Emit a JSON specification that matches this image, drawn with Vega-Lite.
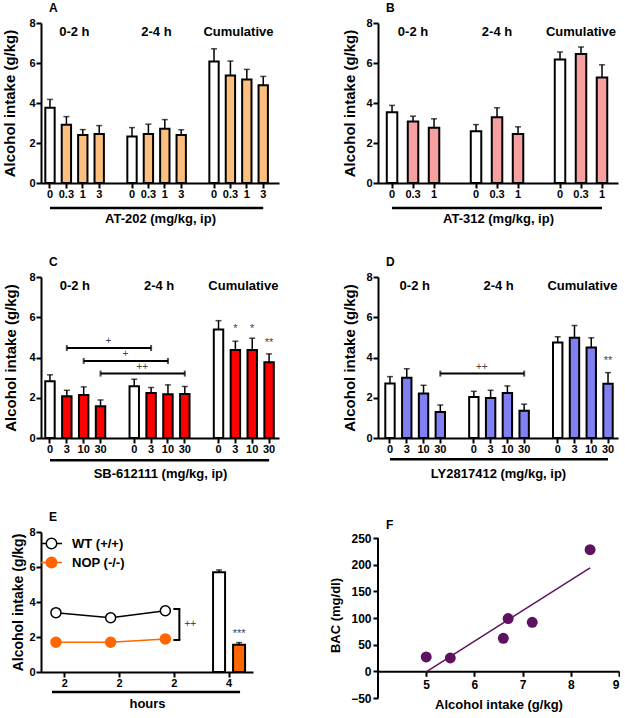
{
  "$schema": "https://vega.github.io/schema/vega-lite/v6.json",
  "background": "white",
  "padding": {"left": 2, "top": 2, "right": 0, "bottom": 0},
  "config": {
    "font": "Liberation Sans",
    "view": {"stroke": null},
    "axis": {"domainColor": "black", "domainWidth": 2, "tickColor": "black", "tickWidth": 2, "tickSize": 5, "labelColor": "black", "labelFont": "Liberation Sans", "labelFontWeight": "bold", "labelFontSize": 11, "labelPadding": 1, "titleColor": "black", "titleFont": "Liberation Sans", "titleFontWeight": "bold", "grid": false, "labelOverlap": false},
    "axisX": {"labelAngle": 0, "titleFontSize": 13, "titlePadding": 13, "labelPadding": 0},
    "axisY": {"titleFontSize": 15, "titlePadding": 11},
    "title": {"anchor": "start", "frame": "group", "fontSize": 12, "fontWeight": "bold", "font": "Liberation Sans", "color": "black", "dx": 8, "offset": 2}
  },
  "datasets": {
    "A": [
      {"cat": "0-2 h:0", "period": "0-2 h", "dose": "0", "trt": "vehicle", "mean": 3.76, "top": 4.18},
      {"cat": "0-2 h:0.3", "period": "0-2 h", "dose": "0.3", "trt": "drug", "mean": 2.91, "top": 3.32},
      {"cat": "0-2 h:1", "period": "0-2 h", "dose": "1", "trt": "drug", "mean": 2.40, "top": 2.67},
      {"cat": "0-2 h:3", "period": "0-2 h", "dose": "3", "trt": "drug", "mean": 2.45, "top": 2.87},
      {"cat": "2-4 h:0", "period": "2-4 h", "dose": "0", "trt": "vehicle", "mean": 2.32, "top": 2.77},
      {"cat": "2-4 h:0.3", "period": "2-4 h", "dose": "0.3", "trt": "drug", "mean": 2.45, "top": 2.94},
      {"cat": "2-4 h:1", "period": "2-4 h", "dose": "1", "trt": "drug", "mean": 2.71, "top": 3.17},
      {"cat": "2-4 h:3", "period": "2-4 h", "dose": "3", "trt": "drug", "mean": 2.40, "top": 2.66},
      {"cat": "Cumulative:0", "period": "Cumulative", "dose": "0", "trt": "vehicle", "mean": 6.08, "top": 6.71},
      {"cat": "Cumulative:0.3", "period": "Cumulative", "dose": "0.3", "trt": "drug", "mean": 5.38, "top": 6.10},
      {"cat": "Cumulative:1", "period": "Cumulative", "dose": "1", "trt": "drug", "mean": 5.18, "top": 5.68},
      {"cat": "Cumulative:3", "period": "Cumulative", "dose": "3", "trt": "drug", "mean": 4.89, "top": 5.33}
    ],
    "B": [
      {"cat": "0-2 h:0", "period": "0-2 h", "dose": "0", "trt": "vehicle", "mean": 3.54, "top": 3.88},
      {"cat": "0-2 h:0.3", "period": "0-2 h", "dose": "0.3", "trt": "drug", "mean": 3.07, "top": 3.34},
      {"cat": "0-2 h:1", "period": "0-2 h", "dose": "1", "trt": "drug", "mean": 2.76, "top": 3.21},
      {"cat": "2-4 h:0", "period": "2-4 h", "dose": "0", "trt": "vehicle", "mean": 2.59, "top": 2.92},
      {"cat": "2-4 h:0.3", "period": "2-4 h", "dose": "0.3", "trt": "drug", "mean": 3.29, "top": 3.76},
      {"cat": "2-4 h:1", "period": "2-4 h", "dose": "1", "trt": "drug", "mean": 2.45, "top": 2.81},
      {"cat": "Cumulative:0", "period": "Cumulative", "dose": "0", "trt": "vehicle", "mean": 6.18, "top": 6.55},
      {"cat": "Cumulative:0.3", "period": "Cumulative", "dose": "0.3", "trt": "drug", "mean": 6.45, "top": 6.80},
      {"cat": "Cumulative:1", "period": "Cumulative", "dose": "1", "trt": "drug", "mean": 5.28, "top": 5.91}
    ],
    "C": [
      {"cat": "0-2 h:0", "period": "0-2 h", "dose": "0", "trt": "vehicle", "mean": 2.82, "top": 3.14},
      {"cat": "0-2 h:3", "period": "0-2 h", "dose": "3", "trt": "drug", "mean": 2.07, "top": 2.37},
      {"cat": "0-2 h:10", "period": "0-2 h", "dose": "10", "trt": "drug", "mean": 2.14, "top": 2.54},
      {"cat": "0-2 h:30", "period": "0-2 h", "dose": "30", "trt": "drug", "mean": 1.58, "top": 1.89},
      {"cat": "2-4 h:0", "period": "2-4 h", "dose": "0", "trt": "vehicle", "mean": 2.57, "top": 2.92},
      {"cat": "2-4 h:3", "period": "2-4 h", "dose": "3", "trt": "drug", "mean": 2.24, "top": 2.51},
      {"cat": "2-4 h:10", "period": "2-4 h", "dose": "10", "trt": "drug", "mean": 2.17, "top": 2.64},
      {"cat": "2-4 h:30", "period": "2-4 h", "dose": "30", "trt": "drug", "mean": 2.19, "top": 2.56},
      {"cat": "Cumulative:0", "period": "Cumulative", "dose": "0", "trt": "vehicle", "mean": 5.39, "top": 5.83},
      {"cat": "Cumulative:3", "period": "Cumulative", "dose": "3", "trt": "drug", "mean": 4.37, "top": 4.81},
      {"cat": "Cumulative:10", "period": "Cumulative", "dose": "10", "trt": "drug", "mean": 4.37, "top": 4.96},
      {"cat": "Cumulative:30", "period": "Cumulative", "dose": "30", "trt": "drug", "mean": 3.77, "top": 4.18}
    ],
    "D": [
      {"cat": "0-2 h:0", "period": "0-2 h", "dose": "0", "trt": "vehicle", "mean": 2.71, "top": 3.05},
      {"cat": "0-2 h:3", "period": "0-2 h", "dose": "3", "trt": "drug", "mean": 3.00, "top": 3.44},
      {"cat": "0-2 h:10", "period": "0-2 h", "dose": "10", "trt": "drug", "mean": 2.21, "top": 2.62},
      {"cat": "0-2 h:30", "period": "0-2 h", "dose": "30", "trt": "drug", "mean": 1.29, "top": 1.64},
      {"cat": "2-4 h:0", "period": "2-4 h", "dose": "0", "trt": "vehicle", "mean": 2.04, "top": 2.32},
      {"cat": "2-4 h:3", "period": "2-4 h", "dose": "3", "trt": "drug", "mean": 1.99, "top": 2.37},
      {"cat": "2-4 h:10", "period": "2-4 h", "dose": "10", "trt": "drug", "mean": 2.24, "top": 2.59},
      {"cat": "2-4 h:30", "period": "2-4 h", "dose": "30", "trt": "drug", "mean": 1.36, "top": 1.68},
      {"cat": "Cumulative:0", "period": "Cumulative", "dose": "0", "trt": "vehicle", "mean": 4.75, "top": 5.03},
      {"cat": "Cumulative:3", "period": "Cumulative", "dose": "3", "trt": "drug", "mean": 4.98, "top": 5.59},
      {"cat": "Cumulative:10", "period": "Cumulative", "dose": "10", "trt": "drug", "mean": 4.50, "top": 4.98},
      {"cat": "Cumulative:30", "period": "Cumulative", "dose": "30", "trt": "drug", "mean": 2.69, "top": 3.25}
    ],
    "groups_03": [
      {"cat": "0-2 h:0.3", "label": "0-2 h"},
      {"cat": "2-4 h:0.3", "label": "2-4 h"},
      {"cat": "Cumulative:0.3", "label": "Cumulative"}
    ],
    "groups_3": [
      {"cat": "0-2 h:3", "label": "0-2 h"},
      {"cat": "2-4 h:3", "label": "2-4 h"},
      {"cat": "Cumulative:3", "label": "Cumulative"}
    ],
    "C_cmp": [
      {"from": "0-2 h:3", "to": "2-4 h:3", "mid": "0-2 h:30", "y": 4.47, "label": "+"},
      {"from": "0-2 h:10", "to": "2-4 h:10", "mid": "gap1", "y": 3.83, "label": "+"},
      {"from": "0-2 h:30", "to": "2-4 h:30", "mid": "2-4 h:0", "y": 3.2, "label": "++"}
    ],
    "C_sig": [
      {"cat": "Cumulative:3", "label": "*", "y": 5.26},
      {"cat": "Cumulative:10", "label": "*", "y": 5.26},
      {"cat": "Cumulative:30", "label": "**", "y": 4.56}
    ],
    "D_cmp": [
      {"from": "0-2 h:30", "to": "2-4 h:30", "mid": "2-4 h:0", "y": 3.2, "label": "++"}
    ],
    "D_sig": [
      {"cat": "Cumulative:30", "label": "**", "y": 3.7}
    ],
    "E_line": [
      {"time": "2a", "geno": "WT (+/+)", "v": 3.39},
      {"time": "2b", "geno": "WT (+/+)", "v": 3.10},
      {"time": "2c", "geno": "WT (+/+)", "v": 3.50},
      {"time": "2a", "geno": "NOP (-/-)", "v": 1.70},
      {"time": "2b", "geno": "NOP (-/-)", "v": 1.70},
      {"time": "2c", "geno": "NOP (-/-)", "v": 1.89}
    ],
    "E_bar": [
      {"time": "4", "geno": "WT (+/+)", "mean": 5.70, "top": 5.83},
      {"time": "4", "geno": "NOP (-/-)", "mean": 1.56, "top": 1.68}
    ],
    "F": [
      {"intake": 5.0, "bac": 27},
      {"intake": 5.5, "bac": 25},
      {"intake": 6.6, "bac": 62},
      {"intake": 6.7, "bac": 99},
      {"intake": 7.2, "bac": 92},
      {"intake": 8.4, "bac": 228}
    ]
  },
  "columns": 2,
  "bounds": "flush",
  "spacing": {"row": 94, "column": 99},
  "resolve": {"scale": {"fill": "independent", "stroke": "independent", "color": "independent"}, "legend": {"fill": "independent", "stroke": "independent"}},
  "concat": [
    {
      "width": 238, "height": 160,
      "title": "A",
      "layer": [
        {
          "data": {"name": "A"},
          "mark": {"type": "rule", "color": "black", "strokeWidth": 1.5},
          "encoding": {
            "x": {"field": "cat", "type": "nominal",
              "scale": {"domain": ["0-2 h:0", "0-2 h:0.3", "0-2 h:1", "0-2 h:3", "gap1", "2-4 h:0", "2-4 h:0.3", "2-4 h:1", "2-4 h:3", "gap2", "Cumulative:0", "Cumulative:0.3", "Cumulative:1", "Cumulative:3"], "paddingInner": 0.43, "paddingOuter": 0.47, "align": 0.28},
              "axis": {"values": ["0-2 h:0", "0-2 h:0.3", "0-2 h:1", "0-2 h:3", "2-4 h:0", "2-4 h:0.3", "2-4 h:1", "2-4 h:3", "Cumulative:0", "Cumulative:0.3", "Cumulative:1", "Cumulative:3"], "labelExpr": "split(datum.value, ':')[1]", "title": "AT-202 (mg/kg, ip)"}},
            "y": {"field": "mean", "type": "quantitative", "scale": {"domain": [0, 8], "nice": false}, "axis": {"values": [0, 2, 4, 6, 8], "tickCount": 20, "format": "d", "title": "Alcohol intake (g/kg)"}},
            "y2": {"field": "top"}
          }
        },
        {
          "data": {"name": "A"},
          "mark": {"type": "tick", "color": "black", "size": 6, "thickness": 1.5},
          "encoding": {
            "x": {"field": "cat", "type": "nominal"},
            "y": {"field": "top", "type": "quantitative"}
          }
        },
        {
          "data": {"name": "A"},
          "mark": {"type": "bar", "stroke": "black", "strokeWidth": 2},
          "encoding": {
            "x": {"field": "cat", "type": "nominal"},
            "y": {"field": "mean", "type": "quantitative"},
            "fill": {"field": "trt", "type": "nominal", "scale": {"domain": ["vehicle", "drug"], "range": ["white", "#FDBF80"]}, "legend": null}
          }
        },
        {
          "data": {"name": "groups_03"},
          "mark": {"type": "text", "dx": 8, "fontSize": 13, "fontWeight": "bold", "baseline": "middle", "color": "black"},
          "encoding": {
            "x": {"field": "cat", "type": "nominal"},
            "y": {"datum": 7.55, "type": "quantitative"},
            "text": {"field": "label"}
          }
        },
        {
          "data": {"values": [{}]},
          "mark": {"type": "rule", "color": "black", "strokeWidth": 2.5},
          "encoding": {
            "x": {"datum": "0-2 h:0", "type": "nominal"},
            "x2": {"datum": "Cumulative:3"},
            "y": {"datum": -1.25, "type": "quantitative"}
          }
        }
      ]
    },
    {
      "width": 240, "height": 160,
      "title": "B",
      "layer": [
        {
          "data": {"name": "B"},
          "mark": {"type": "rule", "color": "black", "strokeWidth": 1.5},
          "encoding": {
            "x": {"field": "cat", "type": "nominal",
              "scale": {"domain": ["0-2 h:0", "0-2 h:0.3", "0-2 h:1", "gap1", "2-4 h:0", "2-4 h:0.3", "2-4 h:1", "gap2", "Cumulative:0", "Cumulative:0.3", "Cumulative:1"], "paddingInner": 0.5, "paddingOuter": 0.465, "align": 0.45},
              "axis": {"values": ["0-2 h:0", "0-2 h:0.3", "0-2 h:1", "2-4 h:0", "2-4 h:0.3", "2-4 h:1", "Cumulative:0", "Cumulative:0.3", "Cumulative:1"], "labelExpr": "split(datum.value, ':')[1]", "title": "AT-312 (mg/kg, ip)"}},
            "y": {"field": "mean", "type": "quantitative", "scale": {"domain": [0, 8], "nice": false}, "axis": {"values": [0, 2, 4, 6, 8], "tickCount": 20, "format": "d", "title": "Alcohol intake (g/kg)", "titlePadding": 8}},
            "y2": {"field": "top"}
          }
        },
        {
          "data": {"name": "B"},
          "mark": {"type": "tick", "color": "black", "size": 6, "thickness": 1.5},
          "encoding": {
            "x": {"field": "cat", "type": "nominal"},
            "y": {"field": "top", "type": "quantitative"}
          }
        },
        {
          "data": {"name": "B"},
          "mark": {"type": "bar", "stroke": "black", "strokeWidth": 2},
          "encoding": {
            "x": {"field": "cat", "type": "nominal"},
            "y": {"field": "mean", "type": "quantitative"},
            "fill": {"field": "trt", "type": "nominal", "scale": {"domain": ["vehicle", "drug"], "range": ["white", "#F7A0A0"]}, "legend": null}
          }
        },
        {
          "data": {"name": "groups_03"},
          "mark": {"type": "text", "fontSize": 13, "fontWeight": "bold", "baseline": "middle", "color": "black"},
          "encoding": {
            "x": {"field": "cat", "type": "nominal"},
            "y": {"datum": 7.55, "type": "quantitative"},
            "text": {"field": "label"}
          }
        },
        {
          "data": {"values": [{}]},
          "mark": {"type": "rule", "color": "black", "strokeWidth": 2.5},
          "encoding": {
            "x": {"datum": "0-2 h:0", "type": "nominal"},
            "x2": {"datum": "Cumulative:1"},
            "y": {"datum": -1.25, "type": "quantitative"}
          }
        }
      ]
    },
    {
      "width": 238, "height": 161,
      "title": "C",
      "layer": [
        {
          "data": {"name": "C"},
          "mark": {"type": "rule", "color": "black", "strokeWidth": 1.5},
          "encoding": {
            "x": {"field": "cat", "type": "nominal",
              "scale": {"domain": ["0-2 h:0", "0-2 h:3", "0-2 h:10", "0-2 h:30", "gap1", "2-4 h:0", "2-4 h:3", "2-4 h:10", "2-4 h:30", "gap2", "Cumulative:0", "Cumulative:3", "Cumulative:10", "Cumulative:30"], "paddingInner": 0.44, "paddingOuter": 0.28, "align": 0.45},
              "axis": {"values": ["0-2 h:0", "0-2 h:3", "0-2 h:10", "0-2 h:30", "2-4 h:0", "2-4 h:3", "2-4 h:10", "2-4 h:30", "Cumulative:0", "Cumulative:3", "Cumulative:10", "Cumulative:30"], "labelExpr": "split(datum.value, ':')[1]", "title": "SB-612111 (mg/kg, ip)"}},
            "y": {"field": "mean", "type": "quantitative", "scale": {"domain": [0, 8], "nice": false}, "axis": {"values": [0, 2, 4, 6, 8], "tickCount": 20, "format": "d", "title": "Alcohol intake (g/kg)", "titlePadding": 10}},
            "y2": {"field": "top"}
          }
        },
        {
          "data": {"name": "C"},
          "mark": {"type": "tick", "color": "black", "size": 6, "thickness": 1.5},
          "encoding": {
            "x": {"field": "cat", "type": "nominal"},
            "y": {"field": "top", "type": "quantitative"}
          }
        },
        {
          "data": {"name": "C"},
          "mark": {"type": "bar", "stroke": "black", "strokeWidth": 2},
          "encoding": {
            "x": {"field": "cat", "type": "nominal"},
            "y": {"field": "mean", "type": "quantitative"},
            "fill": {"field": "trt", "type": "nominal", "scale": {"domain": ["vehicle", "drug"], "range": ["white", "#FF0000"]}, "legend": null}
          }
        },
        {
          "data": {"name": "groups_3"},
          "mark": {"type": "text", "dx": 8, "fontSize": 13, "fontWeight": "bold", "baseline": "middle", "color": "black"},
          "encoding": {
            "x": {"field": "cat", "type": "nominal"},
            "y": {"datum": 7.55, "type": "quantitative"},
            "text": {"field": "label"}
          }
        },
        {
          "data": {"name": "C_cmp"},
          "mark": {"type": "rule", "color": "black", "strokeWidth": 2},
          "encoding": {
            "x": {"field": "from", "type": "nominal"},
            "x2": {"field": "to"},
            "y": {"field": "y", "type": "quantitative"}
          }
        },
        {
          "data": {"name": "C_cmp"},
          "mark": {"type": "tick", "orient": "vertical", "color": "black", "size": 6, "thickness": 2},
          "encoding": {
            "x": {"field": "from", "type": "nominal"},
            "y": {"field": "y", "type": "quantitative"}
          }
        },
        {
          "data": {"name": "C_cmp"},
          "mark": {"type": "tick", "orient": "vertical", "color": "black", "size": 6, "thickness": 2},
          "encoding": {
            "x": {"field": "to", "type": "nominal"},
            "y": {"field": "y", "type": "quantitative"}
          }
        },
        {
          "data": {"name": "C_cmp"},
          "mark": {"type": "text", "dx": 8, "dy": -4, "fontSize": 10, "color": "#444444", "baseline": "alphabetic"},
          "encoding": {
            "x": {"field": "mid", "type": "nominal"},
            "y": {"field": "y", "type": "quantitative"},
            "text": {"field": "label"}
          }
        },
        {
          "data": {"name": "C_sig"},
          "mark": {"type": "text", "fontSize": 11, "color": "#444444", "baseline": "alphabetic"},
          "encoding": {
            "x": {"field": "cat", "type": "nominal"},
            "y": {"field": "y", "type": "quantitative"},
            "text": {"field": "label"}
          }
        },
        {
          "data": {"values": [{}]},
          "mark": {"type": "rule", "color": "black", "strokeWidth": 2.5},
          "encoding": {
            "x": {"datum": "0-2 h:0", "type": "nominal"},
            "x2": {"datum": "Cumulative:30"},
            "y": {"datum": -1.1, "type": "quantitative"}
          }
        }
      ]
    },
    {
      "width": 240, "height": 161,
      "title": "D",
      "layer": [
        {
          "data": {"name": "D"},
          "mark": {"type": "rule", "color": "black", "strokeWidth": 1.5},
          "encoding": {
            "x": {"field": "cat", "type": "nominal",
              "scale": {"domain": ["0-2 h:0", "0-2 h:3", "0-2 h:10", "0-2 h:30", "gap1", "2-4 h:0", "2-4 h:3", "2-4 h:10", "2-4 h:30", "gap2", "Cumulative:0", "Cumulative:3", "Cumulative:10", "Cumulative:30"], "paddingInner": 0.44, "paddingOuter": 0.375, "align": 0.58},
              "axis": {"values": ["0-2 h:0", "0-2 h:3", "0-2 h:10", "0-2 h:30", "2-4 h:0", "2-4 h:3", "2-4 h:10", "2-4 h:30", "Cumulative:0", "Cumulative:3", "Cumulative:10", "Cumulative:30"], "labelExpr": "split(datum.value, ':')[1]", "title": "LY2817412 (mg/kg, ip)"}},
            "y": {"field": "mean", "type": "quantitative", "scale": {"domain": [0, 8], "nice": false}, "axis": {"values": [0, 2, 4, 6, 8], "tickCount": 20, "format": "d", "title": "Alcohol intake (g/kg)", "titlePadding": 8}},
            "y2": {"field": "top"}
          }
        },
        {
          "data": {"name": "D"},
          "mark": {"type": "tick", "color": "black", "size": 6, "thickness": 1.5},
          "encoding": {
            "x": {"field": "cat", "type": "nominal"},
            "y": {"field": "top", "type": "quantitative"}
          }
        },
        {
          "data": {"name": "D"},
          "mark": {"type": "bar", "stroke": "black", "strokeWidth": 2},
          "encoding": {
            "x": {"field": "cat", "type": "nominal"},
            "y": {"field": "mean", "type": "quantitative"},
            "fill": {"field": "trt", "type": "nominal", "scale": {"domain": ["vehicle", "drug"], "range": ["white", "#8080F2"]}, "legend": null}
          }
        },
        {
          "data": {"name": "groups_3"},
          "mark": {"type": "text", "dx": 8, "fontSize": 13, "fontWeight": "bold", "baseline": "middle", "color": "black"},
          "encoding": {
            "x": {"field": "cat", "type": "nominal"},
            "y": {"datum": 7.55, "type": "quantitative"},
            "text": {"field": "label"}
          }
        },
        {
          "data": {"name": "D_cmp"},
          "mark": {"type": "rule", "color": "black", "strokeWidth": 2},
          "encoding": {
            "x": {"field": "from", "type": "nominal"},
            "x2": {"field": "to"},
            "y": {"field": "y", "type": "quantitative"}
          }
        },
        {
          "data": {"name": "D_cmp"},
          "mark": {"type": "tick", "orient": "vertical", "color": "black", "size": 6, "thickness": 2},
          "encoding": {
            "x": {"field": "from", "type": "nominal"},
            "y": {"field": "y", "type": "quantitative"}
          }
        },
        {
          "data": {"name": "D_cmp"},
          "mark": {"type": "tick", "orient": "vertical", "color": "black", "size": 6, "thickness": 2},
          "encoding": {
            "x": {"field": "to", "type": "nominal"},
            "y": {"field": "y", "type": "quantitative"}
          }
        },
        {
          "data": {"name": "D_cmp"},
          "mark": {"type": "text", "dx": 8, "dy": -4, "fontSize": 10, "color": "#444444", "baseline": "alphabetic"},
          "encoding": {
            "x": {"field": "mid", "type": "nominal"},
            "y": {"field": "y", "type": "quantitative"},
            "text": {"field": "label"}
          }
        },
        {
          "data": {"name": "D_sig"},
          "mark": {"type": "text", "fontSize": 11, "color": "#444444", "baseline": "alphabetic"},
          "encoding": {
            "x": {"field": "cat", "type": "nominal"},
            "y": {"field": "y", "type": "quantitative"},
            "text": {"field": "label"}
          }
        },
        {
          "data": {"values": [{}]},
          "mark": {"type": "rule", "color": "black", "strokeWidth": 2.5},
          "encoding": {
            "x": {"datum": "0-2 h:0", "type": "nominal"},
            "x2": {"datum": "Cumulative:30"},
            "y": {"datum": -1.05, "type": "quantitative"}
          }
        }
      ]
    },
    {
      "width": 212, "height": 140,
      "title": "E",
      "layer": [
        {
          "data": {"name": "E_line"},
          "mark": {"type": "line", "strokeWidth": 1.5, "xOffset": -9},
          "encoding": {
            "x": {"field": "time", "type": "nominal",
              "scale": {"domain": ["2a", "2b", "2c", "4"], "paddingInner": 0.415, "paddingOuter": 0.145},
              "axis": {"labelExpr": "datum.value == '4' ? '4' : '2'", "title": "hours", "titlePadding": 9}},
            "y": {"field": "v", "type": "quantitative", "scale": {"domain": [0, 8], "nice": false}, "axis": {"values": [0, 2, 4, 6, 8], "tickCount": 20, "format": "d", "title": "Alcohol intake (g/kg)", "titleFontSize": 14, "titlePadding": 3}},
            "stroke": {"field": "geno", "type": "nominal", "scale": {"domain": ["WT (+/+)", "NOP (-/-)"], "range": ["black", "#FF6600"]},
              "legend": {"orient": "none", "legendX": 4, "legendY": 5, "title": null, "symbolType": "M-1,0A1,1,0,1,1,1,0A1,1,0,1,1,-1,0ZM-2,0L-1,0M1,0L2,0", "symbolSize": 110, "symbolStrokeWidth": 1.5, "labelFontSize": 13, "labelFontWeight": "bold", "labelColor": "black", "labelOffset": 14, "rowPadding": 2}}
          }
        },
        {
          "data": {"name": "E_line"},
          "mark": {"type": "point", "shape": "circle", "size": 100, "strokeWidth": 1.5, "opacity": 1, "xOffset": -9},
          "encoding": {
            "x": {"field": "time", "type": "nominal"},
            "y": {"field": "v", "type": "quantitative"},
            "stroke": {"field": "geno", "type": "nominal"},
            "fill": {"field": "geno", "type": "nominal", "scale": {"domain": ["WT (+/+)", "NOP (-/-)"], "range": ["white", "#FF6600"]},
              "legend": {"orient": "none", "legendX": 4, "legendY": 5, "title": null, "symbolType": "M-1,0A1,1,0,1,1,1,0A1,1,0,1,1,-1,0ZM-2,0L-1,0M1,0L2,0", "symbolSize": 110, "symbolStrokeWidth": 1.5, "labelFontSize": 13, "labelFontWeight": "bold", "labelColor": "black", "labelOffset": 14, "rowPadding": 2}}
          }
        },
        {
          "data": {"name": "E_bar"},
          "mark": {"type": "rule", "color": "black", "strokeWidth": 1.5},
          "encoding": {
            "x": {"field": "time", "type": "nominal"},
            "xOffset": {"field": "geno", "type": "nominal", "scale": {"domain": ["WT (+/+)", "NOP (-/-)"], "paddingInner": 0.4}},
            "y": {"field": "mean", "type": "quantitative"},
            "y2": {"field": "top"}
          }
        },
        {
          "data": {"name": "E_bar"},
          "mark": {"type": "tick", "color": "black", "size": 6, "thickness": 1.5},
          "encoding": {
            "x": {"field": "time", "type": "nominal"},
            "xOffset": {"field": "geno", "type": "nominal"},
            "y": {"field": "top", "type": "quantitative"}
          }
        },
        {
          "data": {"name": "E_bar"},
          "mark": {"type": "bar", "stroke": "black", "strokeWidth": 2},
          "encoding": {
            "x": {"field": "time", "type": "nominal"},
            "xOffset": {"field": "geno", "type": "nominal"},
            "y": {"field": "mean", "type": "quantitative"},
            "fill": {"field": "geno", "type": "nominal"}
          }
        },
        {
          "data": {"values": [{}]},
          "mark": {"type": "rule", "color": "black", "strokeWidth": 2, "xOffset": 5},
          "encoding": {
            "x": {"datum": "2c", "type": "nominal"},
            "y": {"datum": 3.6, "type": "quantitative"},
            "y2": {"datum": 1.83}
          }
        },
        {
          "data": {"values": [{}]},
          "mark": {"type": "rule", "color": "black", "strokeWidth": 2, "xOffset": -1, "x2Offset": 6},
          "encoding": {
            "x": {"datum": "2c", "type": "nominal"},
            "x2": {"datum": "2c"},
            "y": {"datum": 3.6, "type": "quantitative"}
          }
        },
        {
          "data": {"values": [{}]},
          "mark": {"type": "rule", "color": "black", "strokeWidth": 2, "xOffset": -1, "x2Offset": 6},
          "encoding": {
            "x": {"datum": "2c", "type": "nominal"},
            "x2": {"datum": "2c"},
            "y": {"datum": 1.83, "type": "quantitative"}
          }
        },
        {
          "data": {"values": [{"label": "++"}]},
          "mark": {"type": "text", "dx": 16, "fontSize": 10, "color": "#444444", "baseline": "alphabetic"},
          "encoding": {
            "x": {"datum": "2c", "type": "nominal"},
            "y": {"datum": 2.6, "type": "quantitative"},
            "text": {"field": "label"}
          }
        },
        {
          "data": {"values": [{"time": "4", "geno": "NOP (-/-)", "label": "***", "y": 1.98}]},
          "mark": {"type": "text", "fontSize": 11, "color": "#444444", "baseline": "alphabetic"},
          "encoding": {
            "x": {"field": "time", "type": "nominal"},
            "xOffset": {"field": "geno", "type": "nominal"},
            "y": {"field": "y", "type": "quantitative"},
            "text": {"field": "label"}
          }
        },
        {
          "data": {"values": [{}]},
          "mark": {"type": "rule", "color": "black", "strokeWidth": 2.5, "xOffset": -13, "x2Offset": 11},
          "encoding": {
            "x": {"datum": "2a", "type": "nominal"},
            "x2": {"datum": "4"},
            "y": {"datum": -1.14, "type": "quantitative"}
          }
        }
      ]
    },
    {
      "width": 241, "height": 166,
      "title": {"text": "F", "offset": 0},
      "layer": [
        {
          "data": {"name": "F"},
          "mark": {"type": "circle", "color": "#5E135E", "size": 120, "opacity": 1},
          "encoding": {
            "x": {"field": "intake", "type": "quantitative", "scale": {"domain": [4, 9], "nice": false, "zero": false},
              "axis": {"values": [5, 6, 7, 8, 9], "tickCount": 20, "format": "d", "offset": -26.67, "title": "Alcohol intake (g/kg)", "labelFontSize": 12, "labelPadding": 3, "titlePadding": 8}},
            "y": {"field": "bac", "type": "quantitative", "scale": {"domain": [-50, 261.25], "nice": false, "zero": false},
              "axis": {"values": [-50, 0, 50, 100, 150, 200, 250], "tickCount": 20, "format": "d", "domain": false, "title": "BAC (mg/dl)", "titleFontSize": 13, "labelFontSize": 12, "labelPadding": 2, "titlePadding": 8}}
          }
        },
        {
          "data": {"values": [{}]},
          "mark": {"type": "rule", "color": "black", "strokeWidth": 2},
          "encoding": {
            "x": {"datum": 4, "type": "quantitative"},
            "y": {"datum": -50, "type": "quantitative"},
            "y2": {"datum": 250}
          }
        },
        {
          "data": {"name": "F"},
          "transform": [{"regression": "bac", "on": "intake"}],
          "mark": {"type": "line", "color": "#5E135E", "strokeWidth": 1.5},
          "encoding": {
            "x": {"field": "intake", "type": "quantitative"},
            "y": {"field": "bac", "type": "quantitative"}
          }
        }
      ]
    }
  ]
}
